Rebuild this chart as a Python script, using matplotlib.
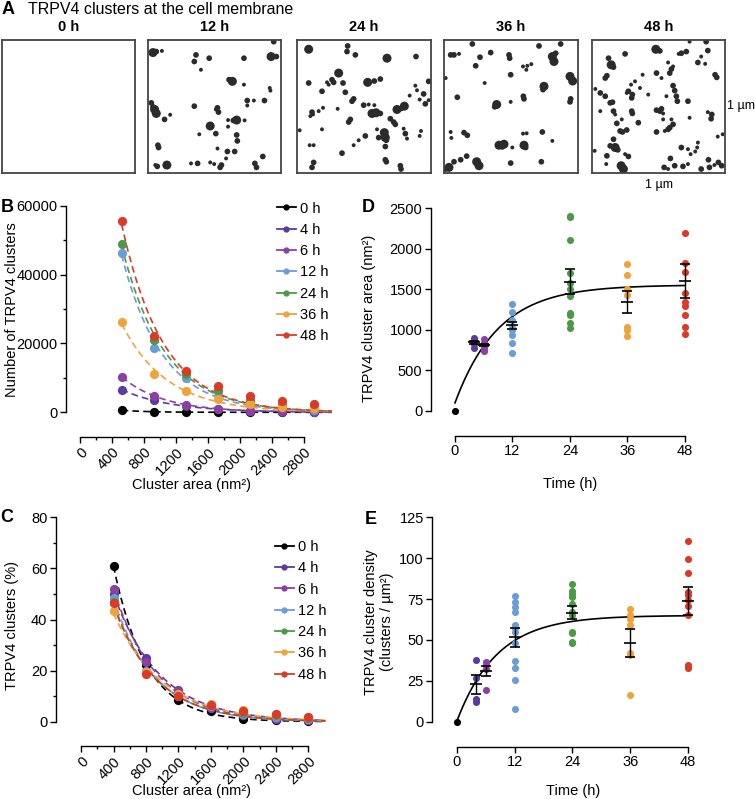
import matplotlib
matplotlib.use("Agg")
import matplotlib.pyplot as plt
from matplotlib.lines import Line2D
import numpy as np

plt.rcParams['font.family'] = ['Liberation Sans', 'DejaVu Sans']
plt.rcParams['font.size'] = 10

W, H = 755, 799

# ---------------- data ----------------
labels = ["0 h", "4 h", "6 h", "12 h", "24 h", "36 h", "48 h"]
colors = ["#000000", "#5b3c9c", "#8c3fa4", "#6b9dd5", "#4c9a48", "#eea43a", "#da3a27"]
hours = [0, 4, 6, 12, 24, 36, 48]

# B: number of clusters per size bin
b_area = np.array([520, 920, 1320, 1720, 2120, 2520, 2920])
b_counts = [
    [600, 200, 0, 0, 0, 0, 0],
    [6600, 3500, 1800, 900, 400, 200, 100],
    [10300, 4800, 2200, 1100, 500, 300, 200],
    [46300, 18800, 10000, 6000, 3000, 1600, 800],
    [49000, 21000, 11000, 6500, 3500, 2000, 1200],
    [26300, 11000, 6300, 4000, 2500, 1600, 1200],
    [55700, 22200, 12000, 7500, 4800, 3300, 2300],
]

# C: percentage of clusters per size bin
c_area = np.array([400, 800, 1200, 1600, 2000, 2400, 2800])
c_pct = [
    [61, 22, 8.5, 4.3, 1.0, 0.5, 0.2],
    [50, 25, 12.5, 6.0, 2.5, 1.5, 0.6],
    [52, 23.5, 12, 5.5, 2.5, 1.2, 0.5],
    [48.5, 20, 10, 6.0, 3.0, 2.0, 1.0],
    [47, 19, 10, 6.5, 3.5, 2.5, 1.5],
    [43.3, 19.5, 11, 7.0, 4.5, 3.0, 2.0],
    [46.4, 18.5, 10, 6.5, 4.0, 3.0, 2.0],
]

# D: mean cluster area per cell (nm^2), group mean and SEM
d_area = [
    [0],
    [900, 870, 825, 780],
    [885, 835, 780, 745],
    [1320, 1225, 1120, 1040, 1000, 940, 840, 720],
    [2405, 2390, 2110, 1700, 1575, 1510, 1415, 1210, 1185, 1090, 1020],
    [1810, 1680, 1500, 1430, 1040, 1000, 920],
    [2190, 1820, 1710, 1450, 1350, 1290, 1185, 1040, 945],
]
d_mean = [0, 847, 814, 1055, 1595, 1347, 1607]
d_sem = [0, 15, 12, 45, 152, 133, 212]
d_fit = dict(y0=100, top=1555, k=0.11)

# E: cluster density per cell (clusters / um^2), group mean and SEM
e_dens = [
    [0],
    [37.5, 26.5, 13.7, 12.2],
    [36.5, 34.5, 32, 19.5],
    [77, 73.4, 70.4, 67.3, 59, 57.5, 55, 48, 37, 33, 25.5, 7.5],
    [84, 80, 78, 76.5, 72, 67.3, 65.3, 55, 54, 49, 48],
    [68.7, 65.3, 62.6, 59, 42, 40.8, 16.3],
    [110.5, 99.5, 91, 79.5, 77.5, 74.4, 71, 65.3, 34.7, 32.6],
]
e_mean = [0, 23, 31, 51.5, 66.7, 48.3, 73.9]
e_sem = [0, 5.8, 3.2, 6.1, 4.0, 8.6, 8.7]
e_fit = dict(y0=0, top=65, k=0.12)

# A: cluster positions in the 1 um x 1 um crops (x, y in 0..400, size class)
a_titles = ["0 h", "12 h", "24 h", "36 h", "48 h"]
a_dots = [
    [],
    [(15, 38, 3), (25, 35, 2), (42, 33, 1), (145, 45, 2), (140, 65, 2), (185, 55, 2), (290, 55, 2),
     (160, 90, 1), (380, 5, 2), (372, 50, 3), (388, 50, 2), (255, 125, 3), (245, 120, 2), (290, 135, 1),
     (368, 145, 1), (370, 153, 1), (300, 183, 2), (320, 183, 1), (352, 183, 2), (300, 198, 1),
     (140, 200, 2), (210, 205, 2), (213, 218, 2), (205, 210, 1), (10, 190, 2), (20, 210, 3), (25, 222, 3),
     (15, 202, 2), (50, 240, 2), (67, 226, 1), (242, 242, 1), (268, 242, 3), (258, 243, 2), (292, 243, 1),
     (242, 262, 1), (188, 260, 3), (155, 285, 1), (205, 283, 2), (268, 287, 2), (270, 305, 2), (30, 318, 2),
     (32, 325, 2), (210, 328, 1), (240, 337, 2), (262, 337, 2), (236, 358, 1), (347, 352, 2), (22, 378, 1),
     (28, 382, 2), (57, 378, 3), (130, 373, 1), (150, 373, 2), (188, 370, 1), (200, 375, 1), (222, 378, 2),
     (218, 385, 2), (323, 373, 2), (328, 385, 2)],
    [(35, 28, 3), (152, 18, 2), (150, 35, 2), (175, 45, 2), (270, 55, 3), (357, 50, 2), (125, 100, 3),
     (105, 120, 2), (110, 128, 2), (90, 128, 1), (95, 135, 1), (35, 130, 2), (138, 130, 2), (75, 155, 2),
     (145, 158, 2), (165, 185, 2), (170, 178, 2), (212, 128, 3), (232, 124, 2), (250, 118, 2), (355, 138, 1),
     (360, 152, 1), (380, 163, 2), (395, 125, 2), (395, 182, 1), (368, 180, 1), (385, 193, 2), (338, 168, 1),
     (200, 197, 2), (215, 195, 1), (232, 197, 1), (122, 208, 1), (78, 205, 1), (65, 215, 1), (45, 218, 2),
     (48, 225, 1), (40, 230, 1), (237, 220, 3), (225, 222, 3), (250, 222, 2), (300, 210, 3), (322, 200, 3),
     (312, 207, 2), (280, 238, 2), (290, 248, 2), (295, 255, 2), (160, 240, 2), (155, 248, 2), (8, 273, 1),
     (75, 270, 1), (240, 270, 1), (262, 280, 3), (265, 295, 3), (268, 303, 2), (320, 268, 1), (325, 283, 2),
     (330, 298, 1), (372, 275, 1), (368, 290, 1), (205, 290, 2), (185, 303, 1), (170, 318, 1), (245, 295, 2),
     (38, 318, 1), (50, 318, 1), (265, 322, 2), (135, 342, 2), (265, 362, 2), (268, 368, 2), (50, 370, 2),
     (45, 385, 2), (310, 380, 2), (312, 390, 2)],
    [(85, 12, 2), (20, 45, 2), (30, 45, 2), (45, 42, 1), (108, 52, 2), (95, 78, 2), (140, 38, 2), (195, 45, 2),
     (197, 55, 2), (285, 18, 2), (350, 12, 2), (325, 50, 3), (330, 65, 3), (335, 40, 2), (237, 80, 1),
     (247, 90, 1), (262, 73, 1), (250, 78, 1), (200, 105, 2), (122, 130, 1), (378, 110, 3), (386, 124, 3),
     (300, 140, 3), (297, 150, 2), (238, 170, 2), (240, 178, 2), (380, 178, 2), (378, 187, 2), (40, 173, 2),
     (200, 187, 1), (158, 195, 3), (152, 202, 2), (20, 278, 1), (22, 296, 1), (60, 280, 2), (70, 288, 2),
     (165, 318, 3), (180, 315, 3), (175, 323, 2), (205, 325, 1), (240, 318, 3), (245, 325, 2), (237, 283, 1),
     (248, 282, 1), (295, 278, 2), (325, 305, 1), (5, 115, 1), (15, 385, 3), (5, 390, 2), (30, 368, 2),
     (50, 362, 2), (68, 351, 2), (98, 368, 3), (105, 380, 3), (200, 372, 2), (292, 368, 2)],
    [(193, 28, 3), (205, 33, 2), (100, 42, 2), (295, 5, 1), (345, 5, 2), (350, 32, 2), (270, 40, 2),
     (285, 35, 2), (262, 42, 1), (330, 50, 1), (320, 68, 2), (342, 72, 1), (58, 75, 3), (65, 82, 2),
     (50, 55, 2), (45, 108, 2), (40, 115, 2), (230, 68, 1), (235, 100, 2), (240, 88, 2), (245, 80, 1),
     (195, 100, 2), (210, 115, 1), (153, 105, 1), (372, 105, 2), (377, 113, 2), (130, 125, 1), (118, 135, 1),
     (110, 155, 2), (122, 165, 2), (120, 175, 2), (105, 160, 1), (145, 145, 1), (10, 148, 1), (25, 160, 2),
     (40, 170, 2), (245, 138, 2), (250, 153, 2), (255, 170, 2), (258, 185, 2), (290, 185, 2), (225, 170, 1),
     (170, 165, 1), (55, 190, 2), (62, 188, 2), (25, 215, 1), (65, 215, 2), (70, 225, 1), (120, 215, 2),
     (122, 222, 2), (195, 212, 2), (210, 208, 2), (205, 215, 2), (215, 222, 1), (215, 240, 1), (240, 240, 1),
     (245, 255, 2), (235, 265, 2), (230, 270, 2), (220, 275, 1), (195, 278, 2), (140, 250, 2), (90, 240, 1),
     (75, 252, 2), (295, 235, 1), (350, 218, 1), (362, 225, 2), (360, 238, 2), (85, 275, 2), (92, 278, 2),
     (105, 272, 2), (380, 292, 1), (395, 285, 1), (65, 300, 2), (55, 320, 2), (70, 325, 3), (78, 332, 2),
     (45, 350, 2), (110, 352, 2), (100, 345, 1), (8, 335, 1), (270, 325, 2), (290, 330, 1), (298, 345, 1),
     (320, 310, 1), (318, 325, 1), (312, 337, 1), (237, 358, 2), (352, 362, 2), (43, 375, 1), (88, 380, 3),
     (95, 390, 3), (218, 385, 2), (230, 390, 1), (250, 380, 2), (275, 382, 2), (290, 375, 1), (330, 390, 2),
     (355, 385, 2), (370, 378, 1), (382, 370, 2), (392, 380, 2)],
]


def px_box(l, t, r, b):
    return [l / W, 1 - b / H, (r - l) / W, (b - t) / H]


def ftext(x, y, s, **kw):
    fig.text(x / W, 1 - y / H, s, **kw)


def exp_fit(x, y):
    best = (np.inf, 0, 0)
    for k in np.linspace(1e-4, 1e-2, 3000):
        e = np.exp(-k * (x - x[0]))
        a = (y * e).sum() / (e * e).sum()
        sse = ((y - a * e) ** 2).sum()
        if sse < best[0]:
            best = (sse, a, k)
    return best[1], best[2]


def style_axes(ax, offset_pt):
    for s in ["top", "right"]:
        ax.spines[s].set_visible(False)
    ax.spines["bottom"].set_position(("outward", offset_pt))
    ax.tick_params(direction="out", length=4, width=1, pad=2, labelsize=10.5)
    ax.tick_params(which="minor", direction="out", length=2.5, width=1)
    ax.spines["left"].set_linewidth(1)
    ax.spines["bottom"].set_linewidth(1)


fig = plt.figure(figsize=(W / 100, H / 100), dpi=100)

# ---------------- panel A ----------------
ftext(8, 9, "A", fontsize=13, fontweight="bold", ha="center", va="center")
ftext(28, 9, "TRPV4 clusters at the cell membrane", fontsize=11.5, ha="left", va="center")
a_boxes = [(2, 40, 135, 173), (148, 40, 281, 173), (297, 40, 431, 173), (444, 40, 578, 173), (592, 40, 725, 173)]
sizes = {1: 8, 2: 17, 3: 42}
for box, title, dots in zip(a_boxes, a_titles, a_dots):
    ax = fig.add_axes(px_box(*box))
    ax.set_xlim(0, 402)
    ax.set_ylim(402, 0)
    ax.set_xticks([])
    ax.set_yticks([])
    for s in ax.spines.values():
        s.set_linewidth(1.3)
        s.set_color("#444444")
    if dots:
        xs = [d[0] for d in dots]
        ys = [d[1] for d in dots]
        ss = [sizes[d[2]] for d in dots]
        ax.scatter(xs, ys, s=ss, color="#2b2b2b", linewidths=0)
    ftext((box[0] + box[2]) / 2, 27, title, fontsize=10.5, fontweight="bold", ha="center", va="center")
ftext(727, 106, "1 µm", fontsize=9, ha="left", va="center")
ftext(659, 185, "1 µm", fontsize=9, ha="center", va="center")

# ---------------- panel B ----------------
axB = fig.add_axes(px_box(66, 205.7, 340, 412.3))
for lab, col, vals in zip(labels, colors, b_counts):
    y = np.array(vals, float)
    a, k = exp_fit(b_area, y)
    xs = np.linspace(b_area[0], 3150, 200)
    axB.plot(xs, a * np.exp(-k * (xs - b_area[0])), "--", color=col, lw=1.2, dashes=(4, 2.5), clip_on=False)
    axB.scatter(b_area, y, s=44, color=col, zorder=3, clip_on=False, linewidths=0)
axB.set_xlim(-175, 3250)
axB.set_ylim(0, 60000)
style_axes(axB, 17.5)
axB.spines["left"].set_bounds(0, 60000)
axB.spines["bottom"].set_bounds(0, 2800)
axB.set_yticks([0, 20000, 40000, 60000])
axB.set_yticks([10000, 30000, 50000], minor=True)
axB.set_xticks(np.arange(0, 2801, 400))
axB.set_xticks(np.arange(200, 2801, 400), minor=True)
axB.set_xticklabels([str(v) for v in range(0, 2801, 400)], rotation=45, ha="right", rotation_mode="anchor")
handles = [Line2D([0], [0], color=c, marker="o", ms=3.5, lw=1.3) for c in colors]
axB.legend(handles, labels, loc="upper left", bbox_to_anchor=(0.77, 1.02), frameon=False,
           handlelength=1.3, handletextpad=0.3, labelspacing=0.5, borderpad=0, borderaxespad=0, fontsize=10.5)
ftext(7, 207, "B", fontsize=13, fontweight="bold", ha="center", va="center")
ftext(12, 310, "Number of TRPV4 clusters", rotation=90, ha="center", va="center", fontsize=10.5)
ftext(191, 485, "Cluster area (nm²)", ha="center", va="center", fontsize=10.5)

# ---------------- panel C ----------------
axC = fig.add_axes(px_box(55.7, 517.3, 340, 721.7))
for lab, col, vals in zip(labels, colors, c_pct):
    y = np.array(vals, float)
    a, k = exp_fit(c_area, y)
    xs = np.linspace(c_area[0], 3010, 200)
    axC.plot(xs, a * np.exp(-k * (xs - c_area[0])), "--", color=col, lw=1.2, dashes=(4, 2.5), clip_on=False)
    axC.scatter(c_area, y, s=44, color=col, zorder=3, clip_on=False, linewidths=0)
axC.set_xlim(-312, 3190)
axC.set_ylim(0, 80)
style_axes(axC, 17.5)
axC.spines["left"].set_bounds(0, 80)
axC.spines["bottom"].set_bounds(0, 2800)
axC.set_yticks([0, 20, 40, 60, 80])
axC.set_yticks([10, 30, 50, 70], minor=True)
axC.set_xticks(np.arange(0, 2801, 400))
axC.set_xticks(np.arange(200, 2801, 400), minor=True)
axC.set_xticklabels([str(v) for v in range(0, 2801, 400)], rotation=45, ha="right", rotation_mode="anchor")
axC.legend(handles, labels, loc="upper left", bbox_to_anchor=(0.771, 0.889), frameon=False,
           handlelength=1.3, handletextpad=0.3, labelspacing=0.5, borderpad=0, borderaxespad=0, fontsize=10.5)
ftext(7, 518, "C", fontsize=13, fontweight="bold", ha="center", va="center")
ftext(12, 625, "TRPV4 clusters (%)", rotation=90, ha="center", va="center", fontsize=10.5)
ftext(192, 791, "Cluster area (nm²)", ha="center", va="center", fontsize=10.5)


# ---------------- panels D and E ----------------
def time_panel(box, groups, means, sems, fit, ymax, ystep, xlim, letter, letter_xy, ylab, ylab_xy, xlab_xy):
    ax = fig.add_axes(px_box(*box))
    t = np.linspace(0, 48, 300)
    ax.plot(t, fit["y0"] + (fit["top"] - fit["y0"]) * (1 - np.exp(-fit["k"] * t)), color="black", lw=1.2, zorder=2)
    for h, col, vals, m, se in zip(hours, colors, groups, means, sems):
        v = np.array(vals, float)
        ax.scatter([h] * len(v), v, s=26, color=col, zorder=3, clip_on=False, linewidths=0)
        if len(v) > 1:
            ax.errorbar([h], [m], yerr=[se], fmt="_", color="black", ms=9, mew=1.2,
                        elinewidth=1, capsize=3.5, capthick=1, zorder=4)
    ax.set_xlim(*xlim)
    ax.set_ylim(0, ymax)
    style_axes(ax, 18)
    ax.spines["left"].set_bounds(0, ymax)
    ax.spines["bottom"].set_bounds(0, 48)
    ax.set_yticks(np.arange(0, ymax + 1, ystep))
    ax.set_xticks([0, 12, 24, 36, 48])
    ftext(*letter_xy, letter, fontsize=13, fontweight="bold", ha="center", va="center")
    ftext(*ylab_xy, ylab, rotation=90, ha="center", va="center", fontsize=10.5, multialignment="center")
    ftext(*xlab_xy, "Time (h)", ha="center", va="center", fontsize=10.5)
    return ax


time_panel((430.7, 208.3, 705, 411), d_area, d_mean, d_sem, d_fit, 2500, 500, (-5.07, 52.2), "D", (368, 207),
           "TRPV4 cluster area (nm²)", (369, 318), (570, 484))
time_panel((432.3, 517.3, 705, 721.7), e_dens, e_mean, e_sem, e_fit, 125, 25, (-5.05, 51.5), "E", (371, 520),
           "TRPV4 cluster density\n(clusters / µm²)", (379, 622), (573, 791))

fig.savefig("out.png", dpi=100)
